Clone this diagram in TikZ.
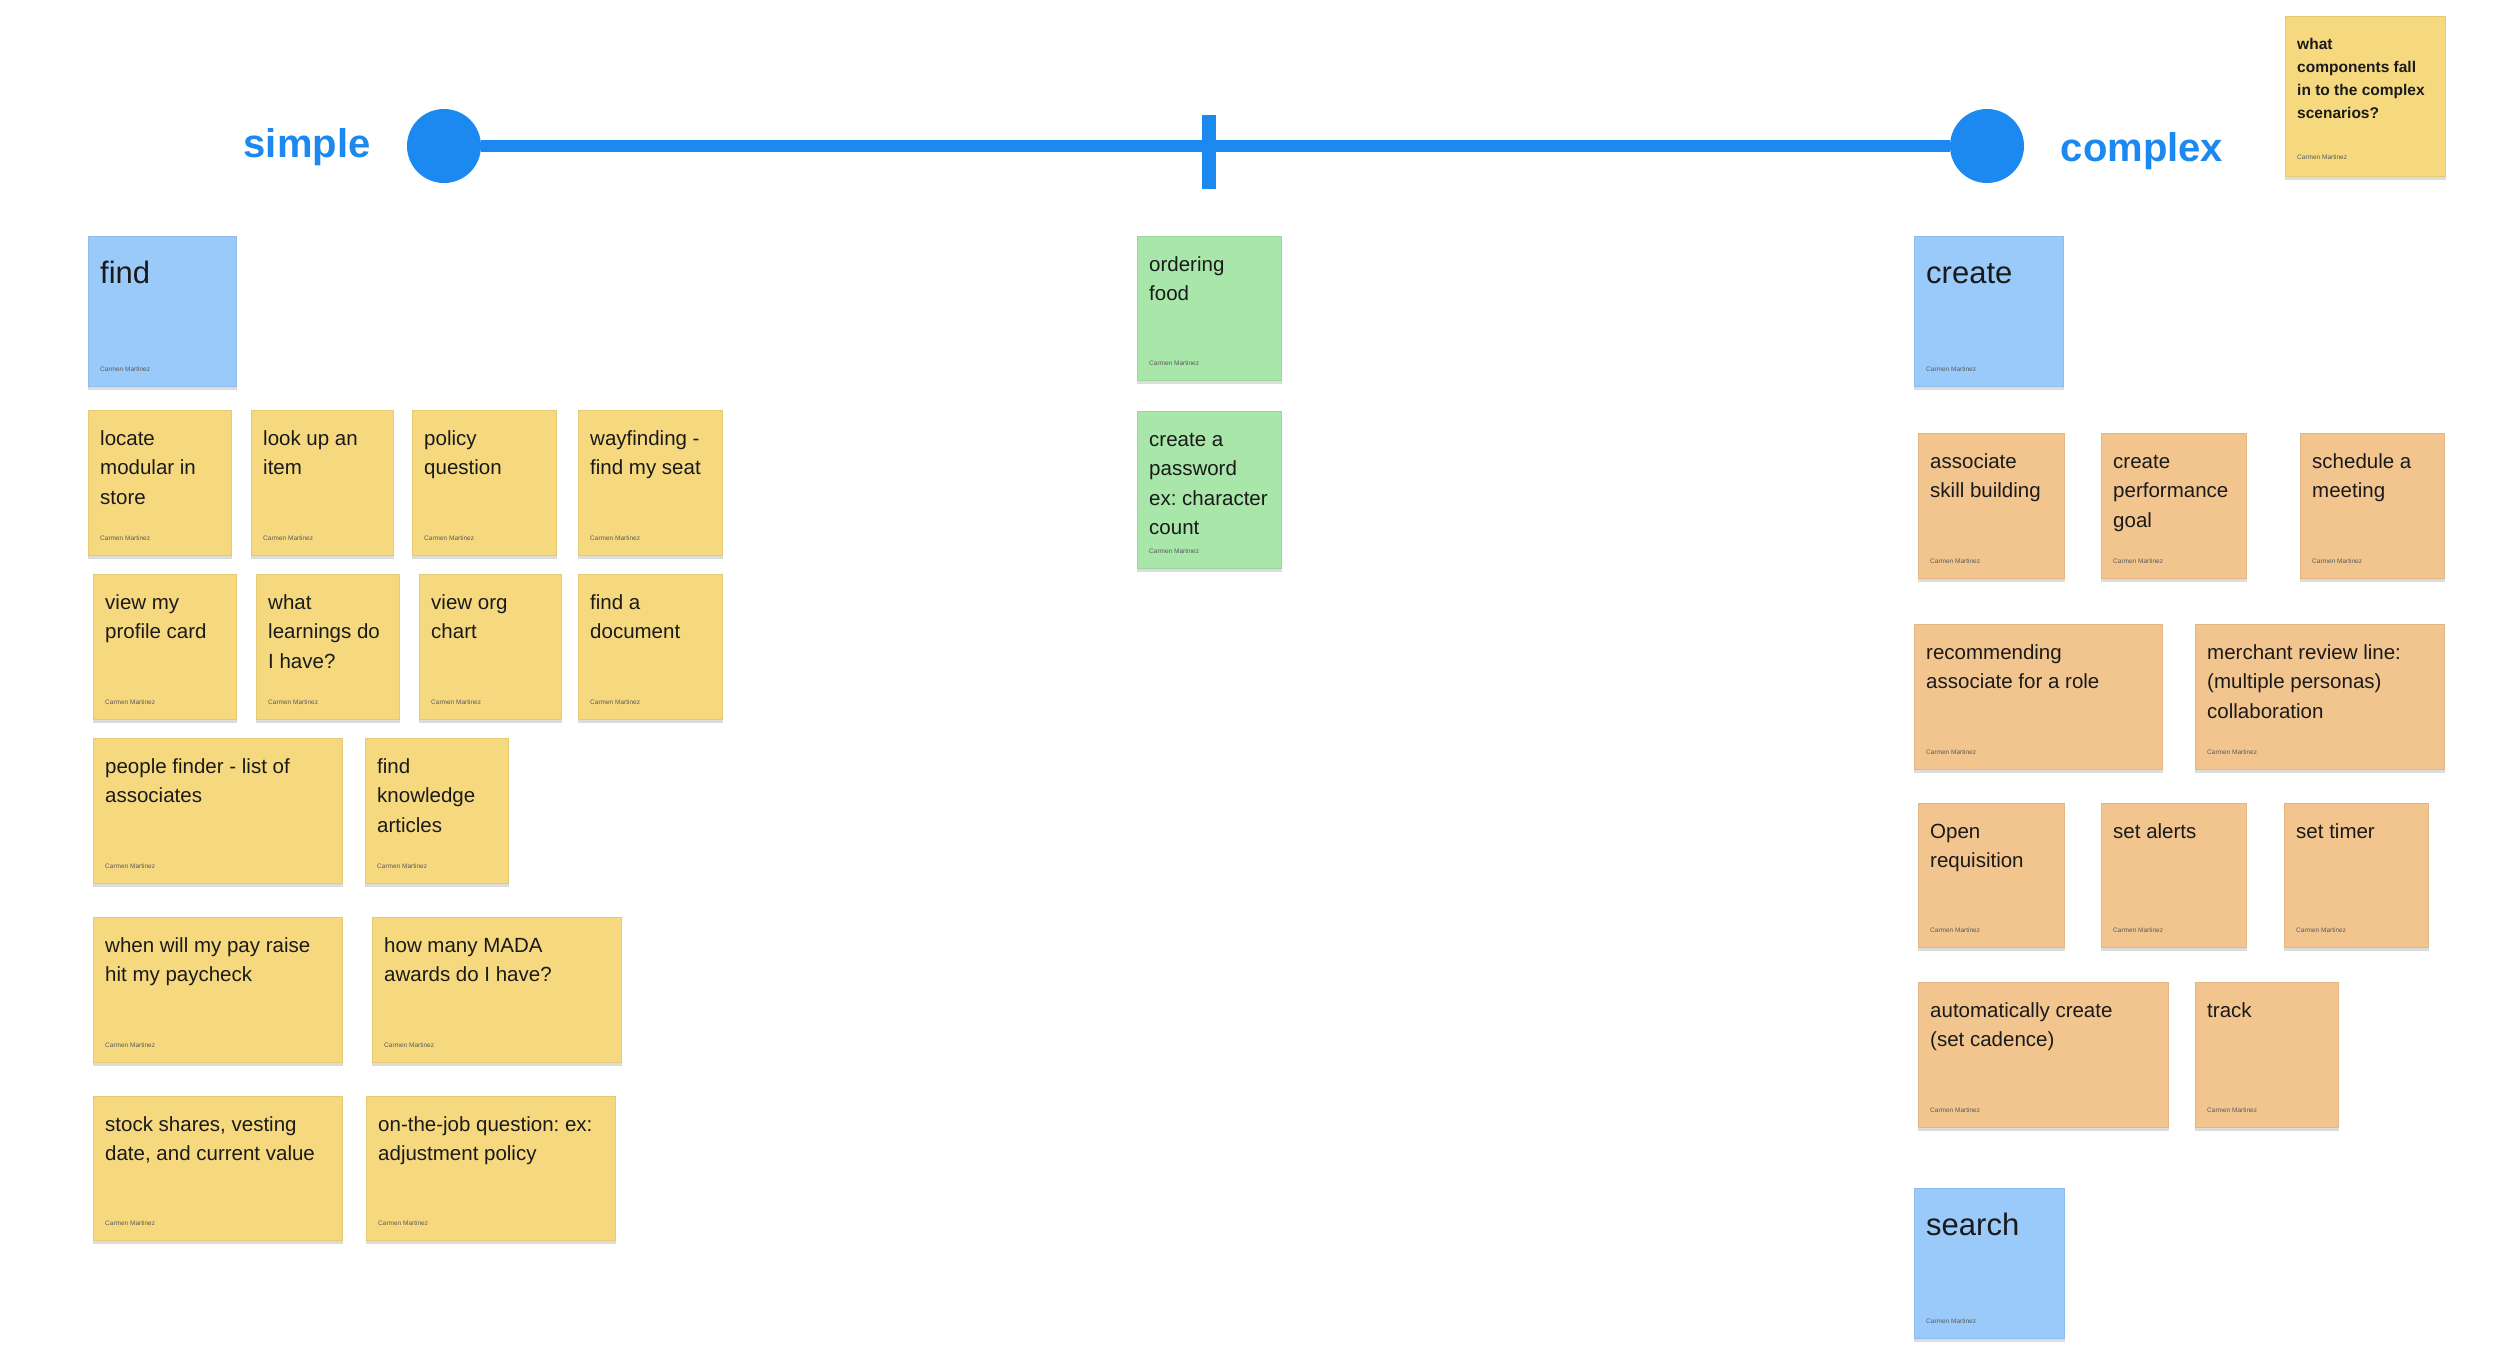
\documentclass[tikz,border=0pt]{standalone}
\usepackage{fontspec}
\setmainfont{Liberation Sans}
\frenchspacing
\definecolor{ylw}{HTML}{F6D97F}
\definecolor{org}{HTML}{F2C58F}
\definecolor{grn}{HTML}{A8E6A9}
\definecolor{blu}{HTML}{9ACAF9}
\definecolor{axisc}{HTML}{1B89F0}
\definecolor{ink}{HTML}{1A1A1A}
\definecolor{shadowc}{HTML}{DCDCDC}
\definecolor{authc}{HTML}{5A5A5A}
\tikzset{
  notebox/.style={rectangle, inner sep=0pt, fill=#1, draw=#1!93!black, line width=0.5pt},
  notetext/.style={inner sep=0pt, text=ink, font=\frenchspacing\fontsize{20.5pt}{29.5pt}\selectfont},
  qtext/.style={inner sep=0pt, text=ink, font=\bfseries\fontsize{15.5pt}{23pt}\selectfont},
  headtext/.style={inner sep=0pt, text=ink, font=\fontsize{31pt}{36pt}\selectfont},
  author/.style={inner sep=0pt, text=authc, font=\fontsize{6.5pt}{7pt}\selectfont},
  axisdot/.style={circle, fill=axisc, minimum size=74pt, inner sep=0pt},
  axisline/.style={draw=axisc, line width=12pt},
  axistick/.style={rectangle, fill=axisc, minimum width=14pt, minimum height=74pt, inner sep=0pt},
  axislabel/.style={inner sep=0pt, text=axisc, font=\bfseries\fontsize{40pt}{46pt}\selectfont},
}
\newcommand\sticky[7]{%
  \node[notebox=#6, minimum width=#4pt, minimum height=#5pt, anchor=north west] (#1) at (#2,#3) {};
  \fill[shadowc] (#1.south west) rectangle ([yshift=-3pt]#1.south east);
  \node[notetext, anchor=base west] (#1-t) at ([xshift=12pt,yshift=-35pt]#1.north west) {\parbox[t]{400pt}{\frenchspacing #7}};
  \node[author, anchor=base west] (#1-a) at ([xshift=12pt,yshift=15pt]#1.south west) {Carmen Martinez};
}
\newcommand\header[6]{%
  \node[notebox=blu, minimum width=#4pt, minimum height=#5pt, anchor=north west] (#1) at (#2,#3) {};
  \fill[shadowc] (#1.south west) rectangle ([yshift=-3pt]#1.south east);
  \node[headtext, anchor=base west] (#1-t) at ([xshift=12pt,yshift=-47pt]#1.north west) {#6};
  \node[author, anchor=base west] (#1-a) at ([xshift=12pt,yshift=15pt]#1.south west) {Carmen Martinez};
}
\begin{document}
\begin{tikzpicture}[x=1pt, y=-1pt]
\useasboundingbox (0,0) rectangle (2496,1360);
\fill[white] (0,0) rectangle (2496,1360);

% axis
\node[axisdot] (L) at (444,146) {};
\node[axisdot] (R) at (1987,146) {};
\draw[axisline] (L) -- (R);
\node[axistick] (M) at (1209,152) {};
\node[axislabel, anchor=base] (simple) at (307,157) {simple};
\node[axislabel, anchor=base] (complex) at (2142,161) {complex};

% question sticky
\node[notebox=ylw, minimum width=160pt, minimum height=160pt, anchor=north west] (q) at (2285,16) {};
\fill[shadowc] (q.south west) rectangle ([yshift=-3pt]q.south east);
\node[qtext, anchor=base west] (q-t) at ([xshift=12pt,yshift=-33pt]q.north west) {\parbox[t]{300pt}{what\\components fall\\in to the complex\\scenarios?}};
\node[author, anchor=base west] (q-a) at ([xshift=12pt,yshift=17pt]q.south west) {Carmen Martinez};

% headers
\header{find}{88}{236}{148}{150}{find}
\header{create}{1914}{236}{149}{150}{create}
\header{search}{1914}{1188}{150}{150}{search}

% simple side (yellow)
\sticky{s1}{88}{410}{143}{145}{ylw}{locate\\modular in\\store}
\sticky{s2}{251}{410}{142}{145}{ylw}{look up an\\item}
\sticky{s3}{412}{410}{144}{145}{ylw}{policy\\question}
\sticky{s4}{578}{410}{144}{145}{ylw}{wayfinding -\\find my seat}
\sticky{s5}{93}{574}{143}{145}{ylw}{view my\\profile card}
\sticky{s6}{256}{574}{143}{145}{ylw}{what\\learnings do\\I have?}
\sticky{s7}{419}{574}{142}{145}{ylw}{view org\\chart}
\sticky{s8}{578}{574}{144}{145}{ylw}{find a\\document}
\sticky{s9}{93}{738}{249}{145}{ylw}{people finder - list of\\associates}
\sticky{s10}{365}{738}{143}{145}{ylw}{find\\knowledge\\articles}
\sticky{s11}{93}{917}{249}{145}{ylw}{when will my pay raise\\hit my paycheck}
\sticky{s12}{372}{917}{249}{145}{ylw}{how many MADA\\awards do I have?}
\sticky{s13}{93}{1096}{249}{144}{ylw}{stock shares, vesting\\date, and current value}
\sticky{s14}{366}{1096}{249}{144}{ylw}{on-the-job question: ex:\\adjustment policy}

% middle (green)
\sticky{m1}{1137}{236}{144}{144}{grn}{ordering\\food}
\sticky{m2}{1137}{411}{144}{157}{grn}{create a\\password\\ex: character\\count}

% complex side (orange)
\sticky{c1}{1918}{433}{146}{145}{org}{associate\\skill building}
\sticky{c2}{2101}{433}{145}{145}{org}{create\\performance\\goal}
\sticky{c3}{2300}{433}{144}{145}{org}{schedule a\\meeting}
\sticky{c4}{1914}{624}{248}{145}{org}{recommending\\associate for a role}
\sticky{c5}{2195}{624}{249}{145}{org}{merchant review line:\\(multiple personas)\\collaboration}
\sticky{c6}{1918}{803}{146}{144}{org}{Open\\requisition}
\sticky{c7}{2101}{803}{145}{144}{org}{set alerts}
\sticky{c8}{2284}{803}{144}{144}{org}{set timer}
\sticky{c9}{1918}{982}{250}{145}{org}{automatically create\\(set cadence)}
\sticky{c10}{2195}{982}{143}{145}{org}{track}
\end{tikzpicture}
\end{document}
